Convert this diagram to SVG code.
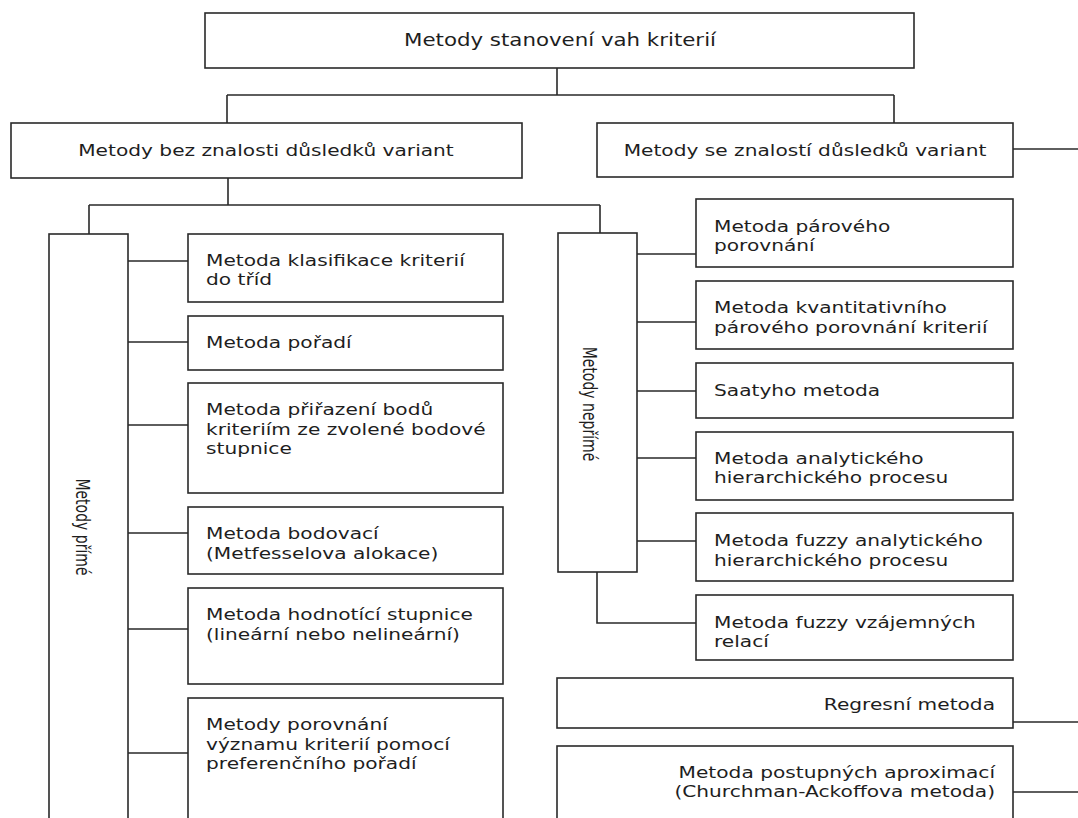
<svg xmlns="http://www.w3.org/2000/svg" width="1078" height="818" viewBox="0 0 1078 818">
<style>
.b{fill:#fff;stroke:#2a2a2a;stroke-width:1.6}
.t{font-family:"DejaVu Sans",Verdana,sans-serif;font-size:16px;fill:#1e1e1e}
.tt{font-size:16.8px}
.v{font-family:"DejaVu Sans",Verdana,sans-serif;font-size:14px;fill:#1e1e1e;text-anchor:middle}
.c{fill:none;stroke:#2a2a2a;stroke-width:1.6}
</style>
<rect width="1078" height="818" fill="#fff"/>
<g id="connectors">
<path class="c" d="M557,68V95M227,95H894M227,95V123M894,95V123"/>
<path class="c" d="M1013,149H1078"/>
<path class="c" d="M228,178V205M89,205H600M89,205V234M600,205V233"/>
<path class="c" d="M128,261H188M128,342H188M128,425H188M128,533H188M128,629H188M128,753H188"/>
<path class="c" d="M637,254H696M637,322H696M637,391H696M637,458H696M637,541H696M597,572V623H696"/>
<path class="c" d="M1013,722H1078M1013,792H1078"/>
</g>
<g id="root"><rect class="b" x="205" y="13" width="709" height="55"/><text class="t tt" text-anchor="middle" transform="translate(560,46) scale(1.27,1)">Metody stanovení vah kriterií</text></g>
<g id="bez"><rect class="b" x="11" y="123" width="511" height="55"/><text class="t" text-anchor="middle" transform="translate(266,156) scale(1.26,1)">Metody bez znalosti důsledků variant</text></g>
<g id="se"><rect class="b" x="597" y="123" width="416" height="54"/><text class="t" text-anchor="middle" transform="translate(805,156) scale(1.26,1)">Metody se znalostí důsledků variant</text></g>
<g id="prime"><rect class="b" x="49" y="234" width="79" height="600"/><text class="v" transform="translate(76,527) scale(1.42,1) rotate(90)">Metody přímé</text></g>
<g id="neprime"><rect class="b" x="558" y="233" width="79" height="339"/><text class="v" transform="translate(583,404) scale(1.42,1) rotate(90)">Metody nepřímé</text></g>
<g id="l1"><rect class="b" x="188" y="234" width="315" height="68"/><text class="t" transform="translate(206,266) scale(1.26,1)"><tspan x="0" y="0">Metoda klasifikace kriterií</tspan><tspan x="0" y="19">do tříd</tspan></text></g>
<g id="l2"><rect class="b" x="188" y="316" width="315" height="54"/><text class="t" transform="translate(206,348) scale(1.26,1)">Metoda pořadí</text></g>
<g id="l3"><rect class="b" x="188" y="383" width="315" height="110"/><text class="t" transform="translate(206,415) scale(1.26,1)"><tspan x="0" y="0">Metoda přiřazení bodů</tspan><tspan x="0" y="20">kriteriím ze zvolené bodové</tspan><tspan x="0" y="39">stupnice</tspan></text></g>
<g id="l4"><rect class="b" x="188" y="507" width="315" height="67"/><text class="t" transform="translate(206,539) scale(1.26,1)"><tspan x="0" y="0">Metoda bodovací</tspan><tspan x="0" y="20">(Metfesselova alokace)</tspan></text></g>
<g id="l5"><rect class="b" x="188" y="588" width="315" height="96"/><text class="t" transform="translate(206,620) scale(1.26,1)"><tspan x="0" y="0">Metoda hodnotící stupnice</tspan><tspan x="0" y="20">(lineární nebo nelineární)</tspan></text></g>
<g id="l6"><rect class="b" x="188" y="698" width="315" height="140"/><text class="t" transform="translate(206,730) scale(1.26,1)"><tspan x="0" y="0">Metody porovnání</tspan><tspan x="0" y="20">významu kriterií pomocí</tspan><tspan x="0" y="39">preferenčního pořadí</tspan></text></g>
<g id="r1"><rect class="b" x="696" y="199" width="317" height="68"/><text class="t" transform="translate(714,232) scale(1.26,1)"><tspan x="0" y="0">Metoda párového</tspan><tspan x="0" y="19">porovnání</tspan></text></g>
<g id="r2"><rect class="b" x="696" y="281" width="317" height="68"/><text class="t" transform="translate(714,313) scale(1.26,1)"><tspan x="0" y="0">Metoda kvantitativního</tspan><tspan x="0" y="20">párového porovnání kriterií</tspan></text></g>
<g id="r3"><rect class="b" x="696" y="363" width="317" height="55"/><text class="t" transform="translate(714,396) scale(1.26,1)">Saatyho metoda</text></g>
<g id="r4"><rect class="b" x="696" y="432" width="317" height="68"/><text class="t" transform="translate(714,464) scale(1.26,1)"><tspan x="0" y="0">Metoda analytického</tspan><tspan x="0" y="19">hierarchického procesu</tspan></text></g>
<g id="r5"><rect class="b" x="696" y="513" width="317" height="68"/><text class="t" transform="translate(714,546) scale(1.26,1)"><tspan x="0" y="0">Metoda fuzzy analytického</tspan><tspan x="0" y="20">hierarchického procesu</tspan></text></g>
<g id="r6"><rect class="b" x="696" y="595" width="317" height="65"/><text class="t" transform="translate(714,628) scale(1.26,1)"><tspan x="0" y="0">Metoda fuzzy vzájemných</tspan><tspan x="0" y="19">relací</tspan></text></g>
<g id="regrese"><rect class="b" x="557" y="678" width="456" height="50"/><text class="t" text-anchor="end" transform="translate(995,710) scale(1.26,1)">Regresní metoda</text></g>
<g id="churchman"><rect class="b" x="557" y="746" width="456" height="100"/><text class="t" text-anchor="end" transform="translate(995,778) scale(1.26,1)"><tspan x="0" y="0">Metoda postupných aproximací</tspan><tspan x="0" y="19">(Churchman-Ackoffova metoda)</tspan></text></g>
</svg>
